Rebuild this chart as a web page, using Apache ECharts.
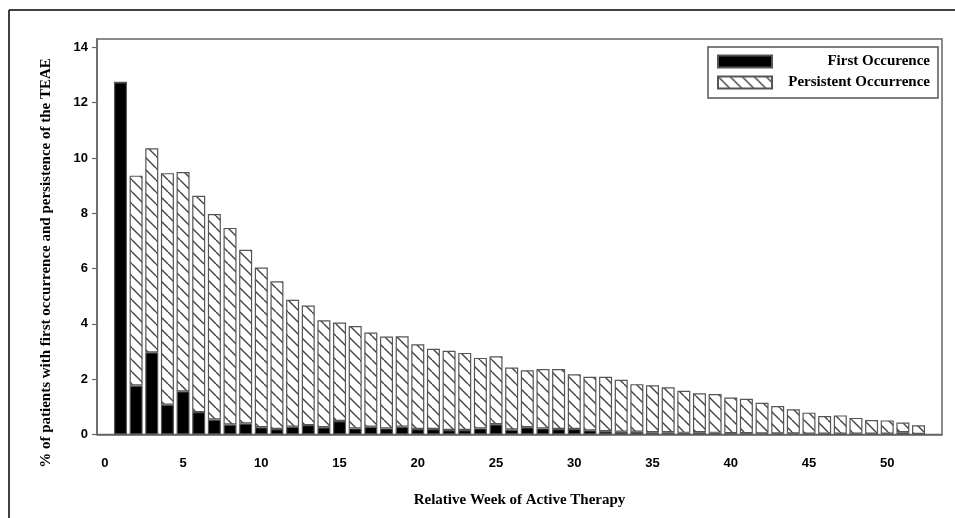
<!DOCTYPE html>
<html>
<head>
<meta charset="utf-8">
<script src="https://cdn.jsdelivr.net/npm/echarts@6/dist/echarts.min.js"></script>
<style>
  html, body { margin: 0; padding: 0; background: #fff; }
  #chart { width: 955px; height: 518px; }
</style>
</head>
<body>
<div id="chart"></div>
<script>
// week categories (0 and 53 are empty slots so the axis spans like the original)
const weeks = [
  '0', '1', '2', '3', '4', '5', '6', '7', '8', '9', '10', '11', '12', '13', '14', '15', '16', '17',
  '18', '19', '20', '21', '22', '23', '24', '25', '26', '27', '28', '29', '30', '31', '32', '33', '34', '35',
  '36', '37', '38', '39', '40', '41', '42', '43', '44', '45', '46', '47', '48', '49', '50', '51', '52', '53'
];

// % of patients, first occurrence of the TEAE
const firstOcc = [
  null, 12.73, 1.77, 2.97, 1.08, 1.56, 0.81, 0.54, 0.36, 0.40, 0.26, 0.20, 0.28, 0.34, 0.26, 0.49, 0.22, 0.28,
  0.22, 0.28, 0.20, 0.20, 0.16, 0.16, 0.22, 0.37, 0.18, 0.26, 0.22, 0.20, 0.20, 0.15, 0.12, 0.10, 0.10, 0.08,
  0.08, 0.06, 0.08, 0.06, 0.05, 0.05, 0.04, 0.04, 0.04, 0.03, 0.03, 0.03, 0.03, 0.03, 0.03, 0.08, 0.02, null
];

// % of patients, persistent occurrence of the TEAE
const persistOcc = [
  null, 0, 7.59, 7.38, 8.37, 7.93, 7.82, 7.43, 7.11, 6.28, 5.78, 5.34, 4.59, 4.32, 3.87, 3.56, 3.70, 3.41,
  3.32, 3.27, 3.06, 2.90, 2.87, 2.79, 2.55, 2.46, 2.24, 2.06, 2.15, 2.17, 1.98, 1.94, 1.97, 1.88, 1.72, 1.70,
  1.63, 1.52, 1.41, 1.40, 1.29, 1.24, 1.11, 0.99, 0.87, 0.76, 0.64, 0.66, 0.57, 0.49, 0.48, 0.35, 0.31, null
];

const seriesNames = ['First Occurence', 'Persistent Occurrence'];

// diagonal hatch tile for the persistent bars
function hatchTile() {
  const c = document.createElement('canvas');
  c.width = 12;
  c.height = 12;
  const ctx = c.getContext('2d');
  ctx.fillStyle = '#fff';
  ctx.fillRect(0, 0, 12, 12);
  ctx.strokeStyle = '#444';
  ctx.lineWidth = 1.4;
  [-12, 0, 12].forEach(function (o) {
    ctx.beginPath();
    ctx.moveTo(o, 0);
    ctx.lineTo(o + 12, 12);
    ctx.stroke();
  });
  return c;
}

const chart = echarts.init(document.getElementById('chart'));

const labelFont = { fontFamily: 'Liberation Sans', fontWeight: 'bold', fontSize: 13, color: '#000' };
const titleFont = { fontFamily: 'Liberation Serif', fontWeight: 'bold', fontSize: 15, color: '#000' };

chart.setOption({
  animation: false,
  backgroundColor: '#fff',
  grid: {
    left: 97, right: 13, top: 39, bottom: 83.5,
    show: true, borderColor: '#666', borderWidth: 1.5
  },
  legend: {
    orient: 'vertical',
    left: 712, top: 49,
    itemWidth: 54, itemHeight: 12, itemGap: 6,
    icon: 'rect',
    selectedMode: false,
    data: seriesNames,
    formatter: '{a|{name}}',
    textStyle: {
      rich: {
        a: {
          width: 153, align: 'right', lineHeight: 12,
          fontFamily: 'Liberation Serif', fontWeight: 'bold', fontSize: 15, color: '#000'
        }
      }
    }
  },
  xAxis: {
    type: 'category',
    data: weeks,
    name: 'Relative Week of Active Therapy',
    nameLocation: 'middle',
    nameGap: 58,
    nameTextStyle: titleFont,
    axisLine: { lineStyle: { color: '#666', width: 1.5 } },
    axisTick: { show: false },
    axisLabel: Object.assign({ interval: 4, margin: 22 }, labelFont),
    splitLine: { show: false }
  },
  yAxis: {
    type: 'value',
    min: 0, max: 14.3, interval: 2,
    axisLine: { show: true, lineStyle: { color: '#666', width: 1.5 } },
    axisTick: { show: true, length: 5, lineStyle: { color: '#666', width: 1.2 } },
    axisLabel: Object.assign({ margin: 9, showMaxLabel: false }, labelFont),
    splitLine: { show: false }
  },
  series: [
    {
      name: seriesNames[0],
      type: 'bar',
      stack: 'teae',
      barWidth: 13,
      data: firstOcc,
      itemStyle: { color: '#000', borderColor: '#555', borderWidth: 1.2 }
    },
    {
      name: seriesNames[1],
      type: 'bar',
      stack: 'teae',
      barWidth: 13,
      data: persistOcc,
      itemStyle: {
        color: { image: hatchTile(), repeat: 'repeat' },
        borderColor: '#555', borderWidth: 1.2
      }
    }
  ],
  graphic: [
    // outer figure border (top and left)
    { type: 'line', shape: { x1: 9, y1: 10, x2: 955, y2: 10 }, style: { stroke: '#000', lineWidth: 1.5 } },
    { type: 'line', shape: { x1: 9, y1: 10, x2: 9, y2: 518 }, style: { stroke: '#000', lineWidth: 1.5 } },
    // legend frame
    { type: 'rect', shape: { x: 708, y: 47, width: 230, height: 51 }, style: { fill: null, stroke: '#555', lineWidth: 1.5 }, z: 10 },
    // y axis title
    {
      type: 'text', x: 46, y: 263, rotation: Math.PI / 2,
      style: {
        text: '% of patients with first occurrence and persistence of the TEAE',
        align: 'center', verticalAlign: 'middle',
        font: 'bold 15px "Liberation Serif"', fill: '#000'
      }
    }
  ]
});
</script>
</body>
</html>
